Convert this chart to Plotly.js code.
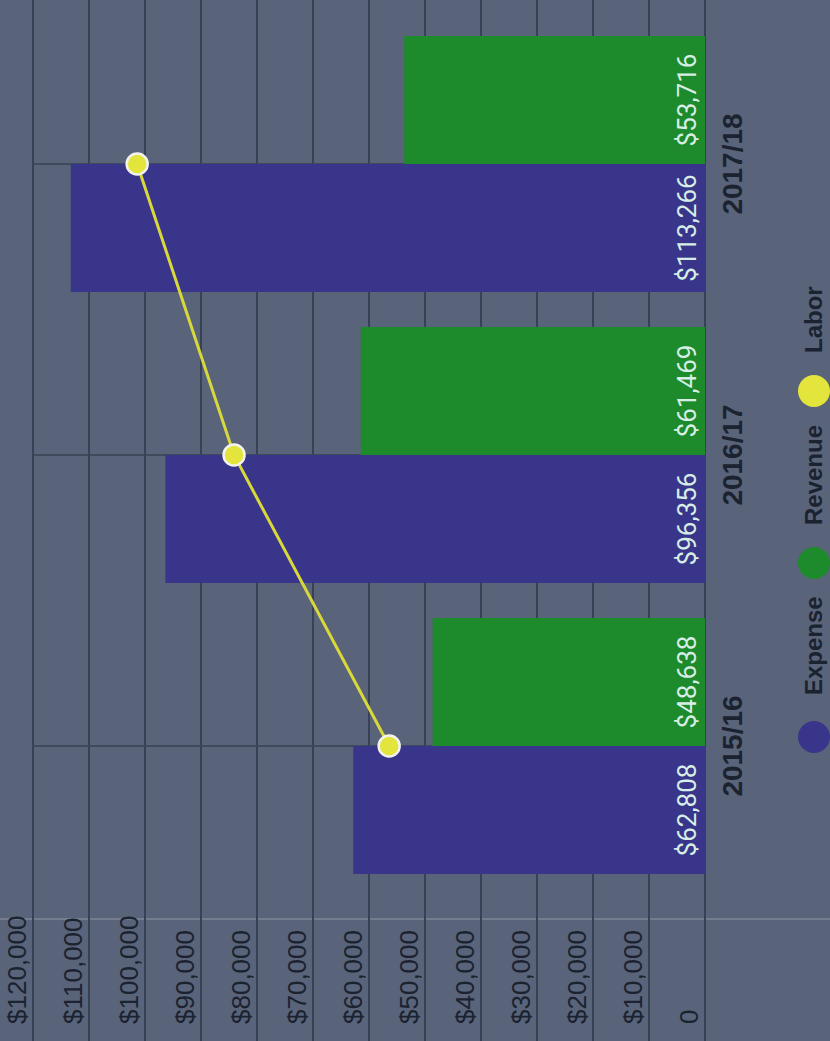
<!DOCTYPE html>
<html>
<head>
<meta charset="utf-8">
<script src="https://cdn.plot.ly/plotly-3.0.1.min.js"></script>
<style>
  html, body { margin: 0; padding: 0; width: 830px; height: 1041px; overflow: hidden; background: #59647a; }
  #chart { position: absolute; left: 0; top: 0; width: 1041px; height: 830px;
           transform-origin: 0 0; transform: translate(0px, 1041px) rotate(-90deg); }
</style>
</head>
<body>
<div id="chart"></div>
<script>
// ---- data ----
const categories = ['2015/16', '2016/17', '2017/18'];
const seriesNames = ['Expense', 'Revenue', 'Labor'];
const expense = [62808, 96356, 113266];
const revenue = [48638, 61469, 53716];
const labor = [56400, 84100, 101400];
const yTickVals = [0, 10000, 20000, 30000, 40000, 50000, 60000, 70000, 80000, 90000, 100000, 110000, 120000];
const yTickLabels = ['0', '$10,000', '$20,000', '$30,000', '$40,000', '$50,000', '$60,000',
                     '$70,000', '$80,000', '$90,000', '$100,000', '$110,000', '$120,000'];
const yMax = 120000;

// ---- styles ----
const BG = '#59647a';
const GRID = '#384255';
const BLUE = '#39358a';
const GREEN = '#1d8a2b';
const YELLOW = '#e3e43c';
const DARK = '#1b2230';
const LABEL = '#d6eee6';

const barText = {family: 'Roboto, sans-serif', size: 26, color: LABEL};

const traces = [
  {
    type: 'bar', name: seriesNames[0], x: categories, y: expense,
    marker: {color: BLUE},
    texttemplate: '$%{y:,}', textposition: 'inside', insidetextanchor: 'start',
    textangle: 0, insidetextfont: barText, hoverinfo: 'skip'
  },
  {
    type: 'bar', name: seriesNames[1], x: categories, y: revenue,
    marker: {color: GREEN},
    texttemplate: '$%{y:,}', textposition: 'inside', insidetextanchor: 'start',
    textangle: 0, insidetextfont: barText, hoverinfo: 'skip'
  },
  {
    type: 'scatter', name: seriesNames[2], x: categories, y: labor,
    mode: 'lines+markers',
    line: {color: '#d9d83a', width: 3},
    marker: {size: 21, color: YELLOW, line: {color: '#f2f2ee', width: 2.5}},
    hoverinfo: 'skip'
  }
];

// custom legend (large round markers)
const legendColors = [BLUE, GREEN, YELLOW];
const legendMarkerX = [304, 478, 650];
const legendTextX = [344, 514, 686];
const W = 1041, plotTop = 0, plotBottom = 708, plotH = plotBottom - plotTop;
const legendY = (plotBottom - 814) / plotH;

const shapes = [
  {type: 'line', xref: 'paper', yref: 'paper', x0: 122 / W, x1: 122 / W,
   y0: (plotBottom - 830) / plotH, y1: 1,
   line: {color: '#7c8798', width: 1.5}, layer: 'below'}
];
// category grid lines, from 0 up to the top tick value
categories.forEach(c => {
  shapes.push({type: 'line', xref: 'x', yref: 'y', x0: c, x1: c, y0: 0, y1: yMax,
    line: {color: GRID, width: 1.5}, layer: 'below'});
});
const annotations = [];
seriesNames.forEach((n, i) => {
  shapes.push({type: 'circle', xref: 'paper', yref: 'paper',
    xsizemode: 'pixel', ysizemode: 'pixel',
    xanchor: legendMarkerX[i] / W, yanchor: legendY,
    x0: -16, x1: 16, y0: -16, y1: 16,
    fillcolor: legendColors[i], line: {width: 0}});
  annotations.push({xref: 'paper', yref: 'paper', x: legendTextX[i] / W, y: legendY,
    xanchor: 'left', yanchor: 'middle', showarrow: false, text: n,
    font: {family: 'Liberation Sans, Arial, sans-serif', size: 24, color: DARK, weight: 'bold'}});
});

const layout = {
  width: 1041, height: 830,
  margin: {l: 0, r: 0, t: plotTop, b: 830 - plotBottom, pad: 0},
  paper_bgcolor: BG, plot_bgcolor: BG,
  showlegend: false,
  barmode: 'group', bargap: 0.12, bargroupgap: 0,
  xaxis: {
    type: 'category', range: [-1.0137, 2.5636],
    showgrid: false,
    zeroline: false, showline: false, ticks: '',
    tickfont: {family: 'Liberation Sans, Arial, sans-serif', size: 28, color: DARK, weight: 'bold'},
    ticklabelstandoff: 5
  },
  yaxis: {
    range: [-536, 125893],
    tickvals: yTickVals, ticktext: yTickLabels,
    ticklabelposition: 'inside', ticklabelshift: -16, ticklabelstandoff: 14,
    showgrid: true, gridcolor: GRID, gridwidth: 1.5,
    zeroline: false, showline: false, ticks: '',
    tickfont: {family: 'Liberation Sans, Arial, sans-serif', size: 26, color: DARK}
  },
  shapes: shapes,
  annotations: annotations
};

Plotly.newPlot('chart', traces, layout, {staticPlot: true, displayModeBar: false});
</script>
</body>
</html>
